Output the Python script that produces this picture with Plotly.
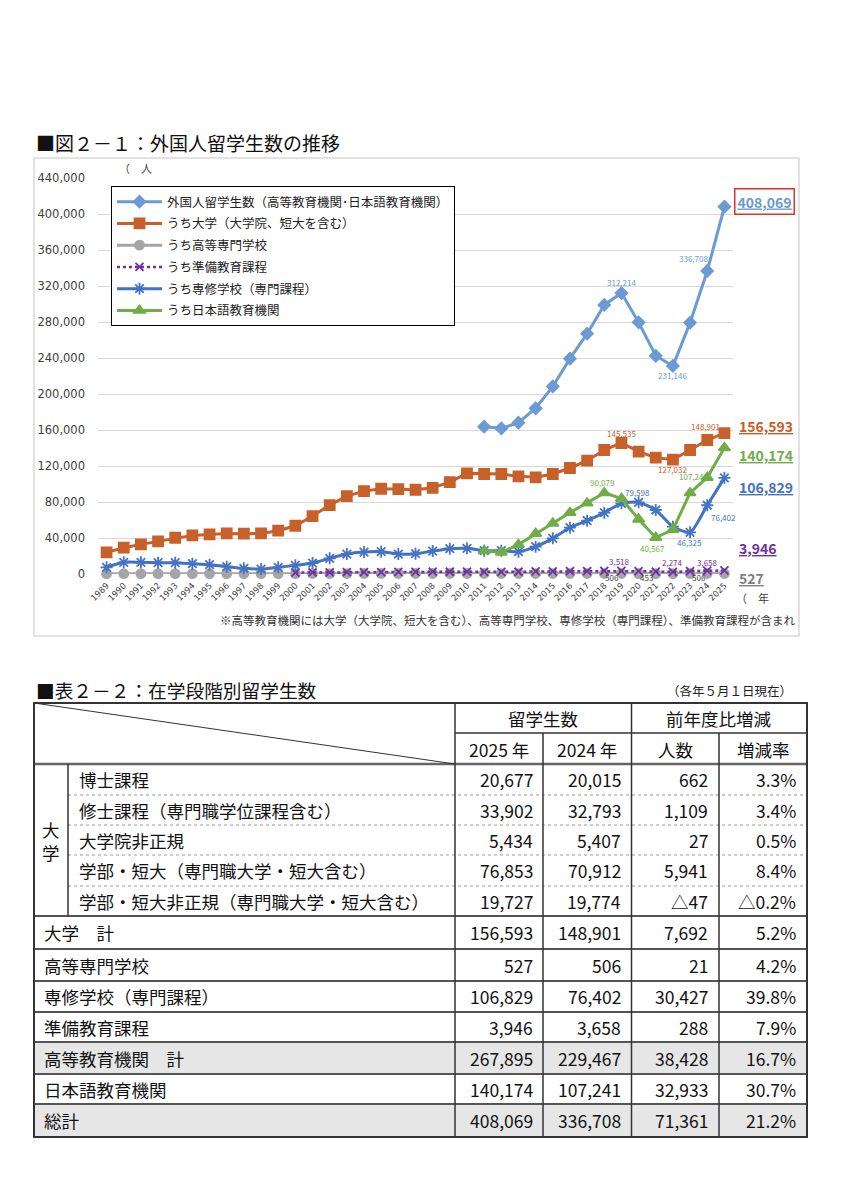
import plotly.graph_objects as go

# ---------------- data (chart) ----------------
years = list(range(1989, 2026))
total = [None]*22 + [163697, 161848, 168145, 184155, 208379, 239287, 267042, 298980,
                     312214, 279597, 242444, 231146, 279274, 336708, 408069]
university = [24000, 29200, 32900, 36300, 40300, 42900, 44000, 45100, 44800, 45100,
              48100, 53600, 64400, 76600, 86600, 92100, 94700, 94300, 93600, 95800,
              102000, 111800, 111100, 111100, 108500, 107400, 111100, 117800, 125900, 137800,
              145535, 135900, 129300, 127032, 137800, 148901, 156593]
kosen = [300, 330, 360, 390, 410, 430, 450, 460, 470, 470,
         480, 490, 500, 510, 520, 530, 540, 540, 550, 550,
         550, 540, 530, 520, 510, 510, 500, 510, 520, 510,
         506, 480, 453, 470, 490, 506, 527]
junbi = [None]*11 + [1500, 1700, 1900, 2100, 2000, 2100, 2300, 2400, 2600, 2500,
                     2600, 2400, 2300, 2500, 2800, 3000, 3200, 3300, 3400, 3518,
                     3200, 2600, 2274, 3200, 3658, 3946]
senshu = [7400, 13000, 13000, 12600, 12600, 11500, 10400, 8100, 6300, 5500,
          7400, 9600, 12200, 17400, 22200, 24400, 24800, 22200, 22600, 25500,
          28100, 28500, 25900, 25900, 24800, 30400, 39600, 51500, 59300, 68100,
          78500, 79598, 71100, 52600, 46325, 76402, 106829]
nihongo = [None]*22 + [25622, 24092, 32626, 44970, 56317, 68165, 78658, 90079,
                       83811, 60814, 40567, 49405, 90062, 107241, 140174]

names = ["外国人留学生数（高等教育機関･日本語教育機関）", "うち大学（大学院、短大を含む）",
         "うち高等専門学校", "うち準備教育課程", "うち専修学校（専門課程）", "うち日本語教育機関"]
ytick_vals = list(range(0, 440001, 40000))

# ---------------- data (table) ----------------
row_labels = ["博士課程", "修士課程（専門職学位課程含む）", "大学院非正規",
              "学部・短大（専門職大学・短大含む）", "学部・短大非正規（専門職大学・短大含む）",
              "大学　計", "高等専門学校", "専修学校（専門課程）", "準備教育課程",
              "高等教育機関　計", "日本語教育機関", "総計"]
v2025 = [20677, 33902, 5434, 76853, 19727, 156593, 527, 106829, 3946, 267895, 140174, 408069]
v2024 = [20015, 32793, 5407, 70912, 19774, 148901, 506, 76402, 3658, 229467, 107241, 336708]
diff_txt = ["662", "1,109", "27", "5,941", "△47", "7,692", "21", "30,427", "288", "38,428", "32,933", "71,361"]
rate_txt = ["3.3%", "3.4%", "0.5%", "8.4%", "△0.2%", "5.2%", "4.2%", "39.8%", "7.9%", "16.7%", "30.7%", "21.2%"]
header_top = ["留学生数", "前年度比増減"]
header_sub = ["2025 年", "2024 年", "人数", "増減率"]

# ---------------- styling ----------------
W, H = 864, 1200
def px(x): return x / W
def py(y): return 1 - y / H

FONT = "Noto Sans CJK JP"
c_total, c_univ, c_kosen, c_junbi, c_senshu, c_nihongo = "#6A9BD5", "#C8602A", "#A5A5A5", "#7030A0", "#4472C4", "#70AD47"

series = [
    dict(y=total, color=c_total, symbol="diamond", size=9, dash="solid", shape="linear", w=3),
    dict(y=university, color=c_univ, symbol="square", size=10, dash="solid", shape="linear", w=3),
    dict(y=kosen, color=c_kosen, symbol="circle", size=9, dash="solid", shape="linear", w=3),
    dict(y=junbi, color=c_junbi, symbol="x-thin-open", size=8, dash="dot", shape="linear", w=2.5),
    dict(y=senshu, color=c_senshu, symbol="asterisk-open", size=10, dash="solid", shape="spline", w=3),
    dict(y=nihongo, color=c_nihongo, symbol="triangle-up", size=10, dash="solid", shape="linear", w=3),
]

fig = go.Figure()
for i in range(6):
    s = series[i]
    fig.add_trace(go.Scatter(
        x=years, y=s["y"], name=names[i], mode="lines+markers",
        line=dict(color=s["color"], width=s["w"], dash=s["dash"], shape=s["shape"], smoothing=0.6),
        marker=dict(symbol=s["symbol"], size=s["size"], color=s["color"],
                    line=dict(color=s["color"], width=1.8)),
        legendgroup=f"g{i}", cliponaxis=False, connectgaps=False,
    ))

annotations = []
shapes = []

# chart frame
shapes.append(dict(type="rect", xref="paper", yref="paper", x0=px(34), x1=px(799), y0=py(158), y1=py(636),
                   line=dict(color="#d9d9d9", width=1.5), layer="below"))

# titles
annotations.append(dict(text="■図２－１：外国人留学生数の推移", x=px(34), y=py(143), xref="paper", yref="paper",
                        xanchor="left", yanchor="middle", showarrow=False, font=dict(size=19, color="#111", family=FONT)))
annotations.append(dict(text="（　人", x=px(117), y=py(168), xref="paper", yref="paper",
                        xanchor="left", yanchor="middle", showarrow=False, font=dict(size=11, color="#404040", family=FONT)))
annotations.append(dict(text="（　年", x=px(734), y=py(598), xref="paper", yref="paper",
                        xanchor="left", yanchor="middle", showarrow=False, font=dict(size=11, color="#404040", family=FONT)))
annotations.append(dict(text="※高等教育機関には大学（大学院、短大を含む）、高等専門学校、専修学校（専門課程）、準備教育課程が含まれ",
                        x=px(797), y=py(620), xref="paper", yref="paper", xanchor="right", yanchor="middle",
                        showarrow=False, font=dict(size=11.5, color="#333", family=FONT)))

# data labels (offsets in px)
def val(arr, yr): return arr[years.index(yr)]
labels = [
    (total, 2019, 0, 11, c_total), (total, 2024, -14, 12, c_total), (total, 2022, 0, -10, c_total),
    (university, 2019, 0, 10, c_univ), (university, 2024, -2, 13, c_univ), (university, 2022, 0, -10, c_univ),
    (nihongo, 2018, -2, 10, c_nihongo), (nihongo, 2021, -3, -11, c_nihongo), (nihongo, 2024, -14, 1, c_nihongo),
    (senshu, 2020, -1, 10, c_senshu), (senshu, 2023, -1, -10, c_senshu), (senshu, 2024, 16, -12, c_senshu),
    (junbi, 2019, -2, 9, c_junbi), (junbi, 2022, 0, 9, c_junbi), (junbi, 2024, 0, 8, c_junbi),
    (kosen, 2019, -9, -4, "#404040"), (kosen, 2021, -9, -4, "#404040"), (kosen, 2024, -8, -4, "#404040"),
]
for arr, yr, dx, dy, col in labels:
    annotations.append(dict(text=f"{val(arr, yr):,}", x=yr, y=val(arr, yr), xref="x", yref="y",
                            xshift=dx, yshift=dy, showarrow=False, font=dict(size=8, color=col, family=FONT)))

# right end labels
end_labels = [(total, c_total, 5), (university, c_univ, 7), (nihongo, c_nihongo, -7),
              (senshu, c_senshu, -9), (junbi, c_junbi, 22), (kosen, "#7F7F7F", -4)]
for arr, col, dy in end_labels:
    a = dict(text=f"<b><u>{arr[-1]:,}</u></b>", x=px(737), y=arr[-1], xref="paper", yref="y", yshift=dy,
             xanchor="left", yanchor="middle", showarrow=False, font=dict(size=14, color=col, family=FONT))
    if arr is total:
        a.update(bordercolor="#E03030", borderwidth=1.5, borderpad=2, x=px(734))
    annotations.append(a)

# ---------------- table ----------------
annotations.append(dict(text="■表２－２：在学段階別留学生数", x=px(34), y=py(689), xref="paper", yref="paper",
                        xanchor="left", yanchor="middle", showarrow=False, font=dict(size=18.7, color="#111", family=FONT)))
annotations.append(dict(text="（各年５月１日現在）", x=px(794), y=py(690), xref="paper", yref="paper",
                        xanchor="right", yanchor="middle", showarrow=False, font=dict(size=12.5, color="#222", family=FONT)))

T_L, T_R, T_TOP, T_BOT = 34, 807, 703, 1137
col_x = [455, 543, 631.5, 719]
row_edges = [764, 795, 825, 855, 886, 916, 949, 981, 1012, 1042, 1074, 1104, 1137]
gray_rows = [9, 11]

for r in gray_rows:
    shapes.append(dict(type="rect", xref="paper", yref="paper", x0=px(T_L), x1=px(T_R),
                       y0=py(row_edges[r]), y1=py(row_edges[r + 1]), fillcolor="#E6E6E6",
                       line=dict(width=0), layer="below"))

def hline(y, x0, x1, color="#555", width=2, dash="solid"):
    shapes.append(dict(type="line", xref="paper", yref="paper", x0=px(x0), x1=px(x1), y0=py(y), y1=py(y),
                       line=dict(color=color, width=width, dash=dash)))
def vline(x, y0, y1, color="#333", width=1.5):
    shapes.append(dict(type="line", xref="paper", yref="paper", x0=px(x), x1=px(x), y0=py(y0), y1=py(y1),
                       line=dict(color=color, width=width)))

hline(733, col_x[0], T_R, "#333", 1.5)
hline(764, T_L, T_R, "#666", 2.5)
for r in range(1, 5):
    hline(row_edges[r], 68, T_R, "#999", 1, "dot")
for r in range(5, 12):
    hline(row_edges[r], T_L, T_R, "#555", 2.2)
vline(col_x[0], T_TOP, T_BOT)
vline(col_x[2], T_TOP, T_BOT)
vline(col_x[1], 733, T_BOT)
vline(col_x[3], 733, T_BOT)
vline(68, 764, 916)
shapes.append(dict(type="line", xref="paper", yref="paper", x0=px(T_L), y0=py(T_TOP), x1=px(col_x[0]), y1=py(764),
                   line=dict(color="#333", width=1)))
shapes.append(dict(type="rect", xref="paper", yref="paper", x0=px(T_L), x1=px(T_R), y0=py(T_TOP), y1=py(T_BOT),
                   line=dict(color="#333", width=2)))

TF = dict(size=17.5, color="#111", family=FONT)
def txt(t, x, y, anchor):
    annotations.append(dict(text=t, x=px(x), y=py(y), xref="paper", yref="paper", xanchor=anchor,
                            yanchor="middle", showarrow=False, font=TF))

txt(header_top[0], (col_x[0] + col_x[2]) / 2, 718, "center")
txt(header_top[1], (col_x[2] + T_R) / 2, 718, "center")
sub_edges = [col_x[0], col_x[1], col_x[2], col_x[3], T_R]
for k, h in enumerate(header_sub):
    txt(h, (sub_edges[k] + sub_edges[k + 1]) / 2, 749, "center")
txt("大<br>学", 51, 841, "center")

for r, lab in enumerate(row_labels):
    yc = (row_edges[r] + row_edges[r + 1]) / 2
    txt(lab, 77 if r < 5 else 42, yc, "left")
    txt(f"{v2025[r]:,}", sub_edges[1] - 8, yc, "right")
    txt(f"{v2024[r]:,}", sub_edges[2] - 9, yc, "right")
    txt(diff_txt[r], sub_edges[3] - 9, yc, "right")
    txt(rate_txt[r], sub_edges[4] - 9, yc, "right")

fig.update_layout(
    width=W, height=H, margin=dict(l=0, r=0, t=0, b=0), autosize=False,
    paper_bgcolor="white", plot_bgcolor="white", template="none",
    font=dict(family=FONT, color="#333"),
    showlegend=True,
    legend=dict(x=px(111), y=py(186), xanchor="left", yanchor="top", bgcolor="white",
                bordercolor="#000", borderwidth=1, font=dict(size=12.5, color="#222", family=FONT),
                itemwidth=45, tracegroupgap=2.5, traceorder="grouped"),
    xaxis=dict(domain=[px(98), px(733)], range=[1988.5, 2025.5], tickmode="array", tickvals=years,
               ticktext=[str(y) for y in years], tickangle=-45, showgrid=False, zeroline=False,
               showline=False, ticks="", automargin=False, ticklabelstandoff=4,
               tickfont=dict(size=8.5, color="#404040", family="DejaVu Sans")),
    yaxis=dict(domain=[py(574), py(178)], range=[0, 440000], tickmode="array", tickvals=ytick_vals,
               tickformat=",", showgrid=True, gridcolor="#D9D9D9", gridwidth=1, zeroline=False,
               showline=False, ticks="", automargin=False, ticklabelstandoff=12,
               tickfont=dict(size=11.5, color="#404040", family="DejaVu Sans")),
    annotations=annotations, shapes=shapes,
)

fig.write_html("out.html")
